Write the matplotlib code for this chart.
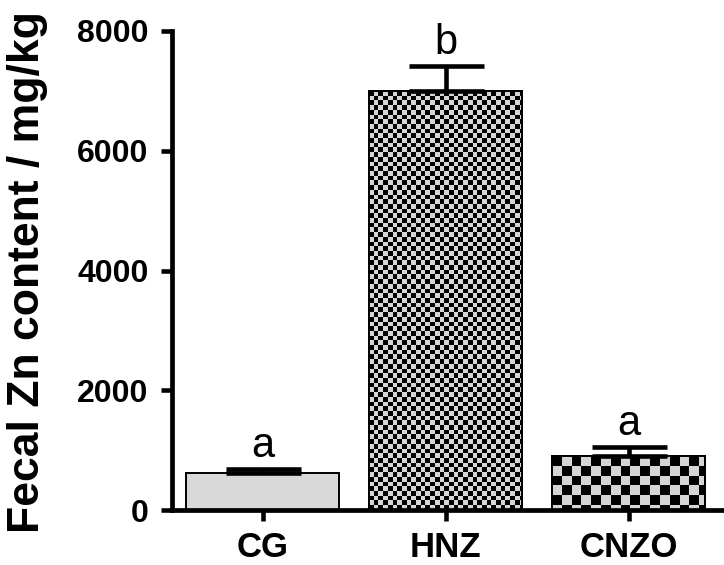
import numpy as np
import matplotlib.pyplot as plt
from matplotlib.patches import Rectangle

plt.rcParams["font.family"] = ["Liberation Sans", "DejaVu Sans"]

groups = ["CG", "HNZ", "CNZO"]
means = [610, 6990, 900]
errors = [70, 420, 150]
letters = ["a", "b", "a"]
# checker square size per group in pixels (0 = plain fill)
checker_px = [0, 4.7, 9.8]

fig = plt.figure(figsize=(7.24, 5.65), dpi=100)
ax = fig.add_axes([172 / 724, 1 - 510 / 565, 550 / 724, 479 / 565])

x = np.arange(len(groups))
width = 0.835
xlim = (-0.495, 2.51)

bars = ax.bar(x, means, width=width, color="#d9d9d9", edgecolor="black",
              linewidth=1.4, zorder=2)

# checkerboard fills, clipped to the bar outlines
px_per_x = 550 / (xlim[1] - xlim[0])
px_per_y = 479 / 8000
for b, sq in zip(bars, checker_px):
    if not sq:
        continue
    x0, y0 = b.get_x(), b.get_y()
    w, h = b.get_width(), b.get_height()
    nc = int(np.ceil(w * px_per_x / sq))
    nr = int(np.ceil(h * px_per_y / sq))
    board = (np.add.outer(np.arange(nr), np.arange(nc)) % 2).astype(float)
    ext_w = nc * sq / px_per_x
    ext_h = nr * sq / px_per_y
    im = ax.imshow(board, cmap="gray", vmin=0, vmax=1.2, interpolation="nearest",
                   extent=[x0, x0 + ext_w, y0 + h - ext_h, y0 + h], origin="upper",
                   aspect="auto", zorder=2.5)
    im.set_clip_path(b)
    ax.add_patch(Rectangle((x0, y0), w, h, fill=False, edgecolor="black",
                           linewidth=1.4, zorder=3))

ax.set_xlim(*xlim)
ax.set_ylim(0, 8000)

ax.errorbar(x, means, yerr=[np.zeros(3), errors], fmt="none", ecolor="black",
            elinewidth=3.3, capsize=27, capthick=3.3, zorder=4)

for xi, m, e, lab in zip(x, means, errors, letters):
    ax.annotate(lab, (xi, m + e), xytext=(0, 9), textcoords="offset points",
                ha="center", va="baseline", fontsize=30)

ax.set_xticks(x)
ax.set_xticklabels(groups, fontsize=25, fontweight="bold")
ax.set_yticks([0, 2000, 4000, 6000, 8000])
ax.set_yticklabels(["0", "2000", "4000", "6000", "8000"], fontsize=23, fontweight="bold")
ax.tick_params(axis="both", width=3.3, length=8, direction="out")
ax.tick_params(axis="y", pad=9)
ax.tick_params(axis="x", pad=7)

for s in ["top", "right"]:
    ax.spines[s].set_visible(False)
for s in ["left", "bottom"]:
    ax.spines[s].set_linewidth(3.4)

fig.text(28 / 724, 1 - 272 / 565, "Fecal Zn content / mg/kg", rotation=90,
         ha="center", va="center", fontsize=32, fontweight="bold")

fig.savefig("out.png", dpi=100)
